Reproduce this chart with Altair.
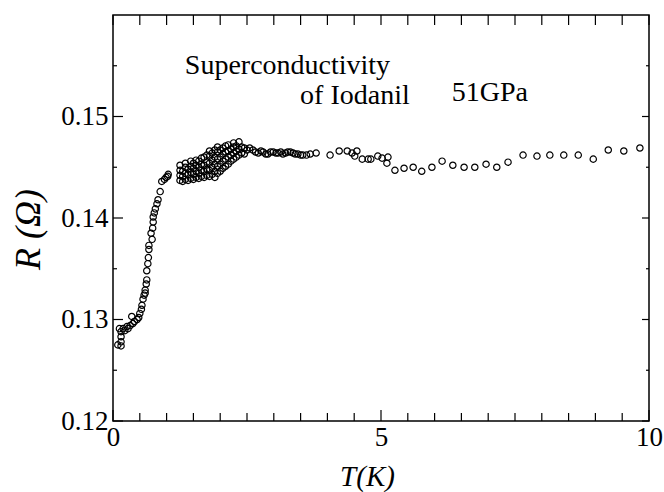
import altair as alt
import pandas as pd

# ---- data ----
low_T = [0.09, 0.15, 0.15, 0.15, 0.15, 0.12, 0.19, 0.22, 0.26, 0.28, 0.32, 0.35, 0.37, 0.40, 0.45,
         0.48, 0.50, 0.53, 0.54, 0.56, 0.58, 0.60, 0.60, 0.62, 0.63, 0.63, 0.65, 0.66, 0.67, 0.67,
         0.71, 0.73, 0.74, 0.75, 0.75, 0.77, 0.79, 0.82, 0.84, 0.88, 0.91, 0.96, 0.99, 1.02, 1.03]
low_R = [0.1275, 0.1274, 0.1278, 0.1283, 0.1288, 0.1291, 0.1291, 0.1289, 0.1293, 0.1291, 0.1294,
         0.1303, 0.1296, 0.1298, 0.1300, 0.1302, 0.1306, 0.1310, 0.1314, 0.1320, 0.1324, 0.1326,
         0.1329, 0.1335, 0.1339, 0.1348, 0.1355, 0.1361, 0.1369, 0.1373, 0.1385, 0.1379, 0.1390,
         0.1396, 0.1401, 0.1405, 0.1409, 0.1414, 0.1418, 0.1426, 0.1436, 0.1438, 0.1440, 0.1441, 0.1443]

cluster_T = [1.25, 1.25, 1.25, 1.25, 1.30, 1.30, 1.30, 1.35, 1.35, 1.35, 1.35, 1.40, 1.40, 1.40,
             1.45, 1.45, 1.45, 1.45, 1.50, 1.50, 1.50, 1.50, 1.55, 1.55, 1.55, 1.55,
             1.60, 1.60, 1.60, 1.60, 1.65, 1.65, 1.65, 1.65, 1.70, 1.70, 1.70, 1.70,
             1.75, 1.75, 1.75, 1.75, 1.80, 1.80, 1.80, 1.80, 1.80, 1.85, 1.85, 1.85, 1.85,
             1.90, 1.90, 1.90, 1.90, 1.90, 1.95, 1.95, 1.95, 1.95, 1.95, 2.00, 2.00, 2.00, 2.00,
             2.05, 2.05, 2.05, 2.05, 2.10, 2.10, 2.10, 2.10, 2.15, 2.15, 2.15, 2.15,
             2.20, 2.20, 2.20, 2.25, 2.25, 2.25, 2.25, 2.30, 2.30, 2.30, 2.35, 2.35, 2.35,
             2.40, 2.40, 2.45, 2.45]
cluster_R = [0.1437, 0.1442, 0.1447, 0.1452, 0.1436, 0.1441, 0.1446, 0.1438, 0.1444, 0.1450, 0.1454,
             0.1437, 0.1443, 0.1448, 0.1439, 0.1445, 0.1451, 0.1456, 0.1438, 0.1443, 0.1449, 0.1454,
             0.1440, 0.1446, 0.1452, 0.1457, 0.1439, 0.1444, 0.1450, 0.1456,
             0.1441, 0.1447, 0.1453, 0.1459, 0.1440, 0.1446, 0.1452, 0.1460,
             0.1442, 0.1448, 0.1455, 0.1462, 0.1441, 0.1447, 0.1454, 0.1461, 0.1466,
             0.1443, 0.1450, 0.1457, 0.1464, 0.1440, 0.1446, 0.1453, 0.1460, 0.1467,
             0.1444, 0.1451, 0.1458, 0.1465, 0.1470, 0.1446, 0.1453, 0.1460, 0.1467,
             0.1449, 0.1456, 0.1463, 0.1469, 0.1451, 0.1458, 0.1465, 0.1471,
             0.1453, 0.1460, 0.1466, 0.1472, 0.1456, 0.1462, 0.1468,
             0.1458, 0.1464, 0.1470, 0.1474, 0.1460, 0.1466, 0.1471, 0.1462, 0.1468, 0.1475,
             0.1464, 0.1470, 0.1463, 0.1469]

high_T = [2.50, 2.55, 2.61, 2.66, 2.71, 2.76, 2.80, 2.85, 2.89, 2.94, 2.99, 3.04, 3.08, 3.13,
          3.17, 3.22, 3.26, 3.31, 3.36, 3.40, 3.45, 3.50, 3.54, 3.61, 3.68, 3.79,
          4.05, 4.22, 4.37, 4.46, 4.55, 4.51, 4.65, 4.76, 4.81, 4.94, 5.02, 5.13, 5.11,
          5.26, 5.43, 5.60, 5.76, 5.95, 6.14, 6.34, 6.55, 6.75, 6.96, 7.16, 7.37,
          7.65, 7.91, 8.15, 8.41, 8.68, 8.96, 9.24, 9.53, 9.83]
high_R = [0.1467, 0.1469, 0.1467, 0.1465, 0.1464, 0.1466, 0.1465, 0.1463, 0.1463, 0.1465, 0.1465,
          0.1464, 0.1464, 0.1465, 0.1463, 0.1464, 0.1465, 0.1465, 0.1464, 0.1463, 0.1463, 0.1462,
          0.1462, 0.1462, 0.1463, 0.1464,
          0.1462, 0.1466, 0.1466, 0.1464, 0.1466, 0.1461, 0.1458, 0.1458, 0.1458, 0.1461, 0.1459,
          0.1460, 0.1454, 0.1447, 0.1449, 0.1450, 0.1446, 0.1450, 0.1456, 0.1452, 0.1450, 0.1450,
          0.1453, 0.1450, 0.1455, 0.1462, 0.1461, 0.1462, 0.1462, 0.1462, 0.1458, 0.1467, 0.1466,
          0.1469]

x_major = [0, 5, 10]
x_minor = [0.5, 1, 1.5, 2, 2.5, 3, 3.5, 4, 4.5, 5.5, 6, 6.5, 7, 7.5, 8, 8.5, 9, 9.5]
y_major = [0.12, 0.13, 0.14, 0.15]
y_minor = [0.125, 0.135, 0.145, 0.155]

notes = ["Superconductivity", "of Iodanil", "51GPa"]
note_T = [1.34, 3.49, 6.32]
note_R = [0.1542, 0.1512, 0.1515]

# ---- tables ----
pts = pd.DataFrame({"T": low_T + cluster_T + high_T, "R": low_R + cluster_R + high_R})
W, H = 536, 406
FONT = "'Liberation Serif', 'Times New Roman', Times, 'DejaVu Serif', serif"

xs = alt.Scale(domain=[0, 10], nice=False, zero=False)
ys = alt.Scale(domain=[0.12, 0.16], nice=False, zero=False)

points = alt.Chart(pts).mark_point(
    shape="circle", size=40, filled=False, stroke="black", strokeWidth=1.2, opacity=1
).encode(
    x=alt.X("T:Q", scale=xs, axis=alt.Axis(
        values=x_major, tickSize=0, domain=False, grid=False, labelFlush=False,
        labelFont=FONT, labelFontSize=27, labelColor="black", labelPadding=3,
        title="T(K)", titleFont=FONT, titleFontStyle="italic", titleFontWeight="normal",
        titleFontSize=29, titleColor="black", titleX=254, titleY=64,
        titleBaseline="alphabetic", titleAlign="center")),
    y=alt.Y("R:Q", scale=ys, axis=alt.Axis(
        values=y_major, format=".2f", tickSize=0, domain=False, grid=False,
        labelFont=FONT, labelFontSize=27, labelColor="black", labelPadding=5,
        title="R (Ω)", titleFont=FONT, titleFontStyle="italic", titleFontWeight="normal",
        titleFontSize=36, titleColor="black", titleAngle=270, titleX=-74, titleY=214,
        titleBaseline="alphabetic", titleAlign="center")),
)

def xtick(vals, length, top):
    df = pd.DataFrame({"T": vals})
    if top:
        enc = dict(y=alt.value(0), y2=alt.value(length))
    else:
        enc = dict(y=alt.value(H), y2=alt.value(H - length))
    return alt.Chart(df).mark_rule(color="black", strokeWidth=1.2).encode(
        x=alt.X("T:Q", scale=xs), **enc)

def ytick(vals, length, right):
    df = pd.DataFrame({"R": vals})
    if right:
        enc = dict(x=alt.value(W), x2=alt.value(W - length))
    else:
        enc = dict(x=alt.value(0), x2=alt.value(length))
    return alt.Chart(df).mark_rule(color="black", strokeWidth=1.2).encode(
        y=alt.Y("R:Q", scale=ys), **enc)

ticks = [
    xtick(x_major, 11, False), xtick(x_minor, 8, False),
    xtick(x_major, 10, True), xtick(x_minor, 10, True),
    ytick(y_major, 10, False), ytick(y_minor, 4, False),
    ytick(y_major, 7, True), ytick(y_minor, 3, True),
]

text = alt.Chart(pd.DataFrame({"t": notes, "T": note_T, "R": note_R})).mark_text(
    font=FONT, fontSize=28, align="left", baseline="alphabetic", color="black"
).encode(x=alt.X("T:Q", scale=xs), y=alt.Y("R:Q", scale=ys), text="t:N")

chart = alt.layer(points, *ticks, text).properties(
    width=W, height=H,
    autosize=alt.AutoSizeParams(type="none"),
    padding={"left": 113, "top": 15, "right": 15, "bottom": 71},
    background="white",
).configure_view(stroke="black", strokeWidth=1.5)

chart.save("out.html", embed_options={"renderer": "svg", "actions": False})
